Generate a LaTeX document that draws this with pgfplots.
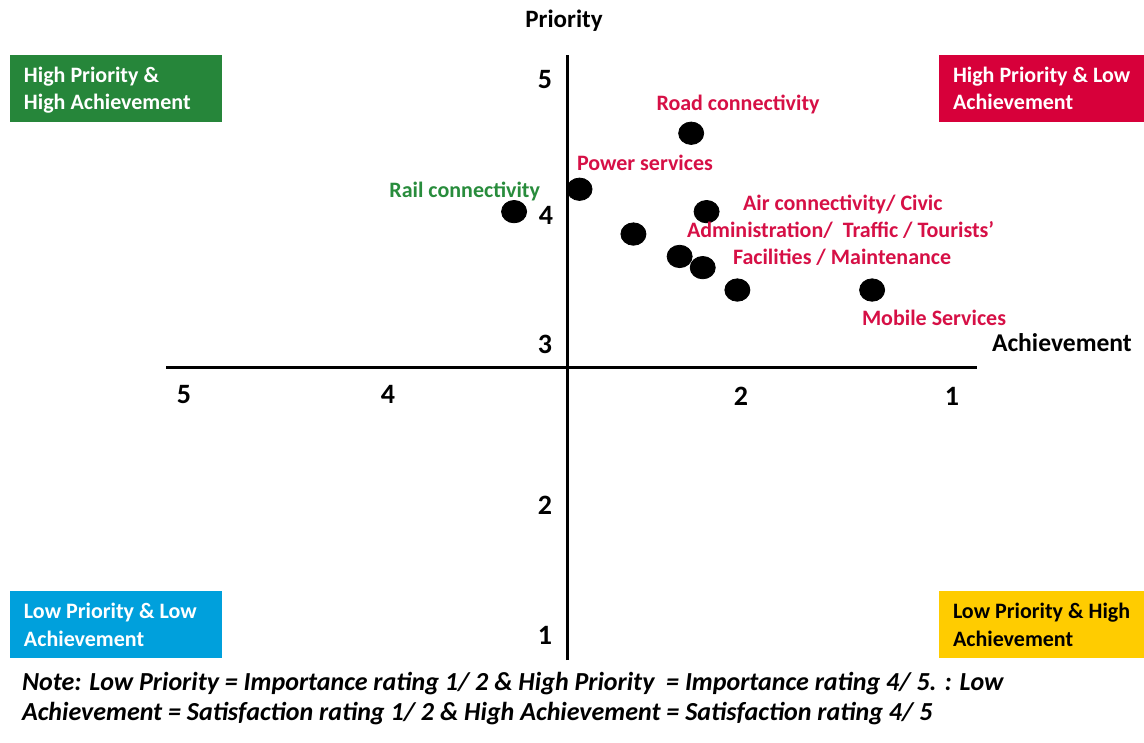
\documentclass[border=0pt]{standalone}
\usepackage{fontspec}
\setmainfont{Carlito}
\usepackage{pgfplots}
\pgfplotsset{compat=1.18}

\definecolor{qgreen}{RGB}{38,134,58}
\definecolor{qred}{RGB}{215,0,58}
\definecolor{qblue}{RGB}{0,160,220}
\definecolor{qyellow}{RGB}{255,204,0}
\definecolor{lblred}{RGB}{214,16,70}
\definecolor{lblgreen}{RGB}{40,140,60}

\begin{document}
\begin{tikzpicture}
\path[use as bounding box] (0,0) rectangle (572pt,-371.5pt);

% Priority (vertical) against achievement (horizontal, 5 on the left)
\begin{axis}[
  at={(84pt,-330pt)}, anchor=south west,
  width=405pt, height=302.5pt, scale only axis,
  x dir=reverse,
  xmin=0.870, xmax=5.078,
  ymin=0.907, ymax=5.229,
  hide axis, clip=false]
  \draw[line width=1.5pt] (axis cs:5.088,3) -- (axis cs:0.875,3);
  \draw[line width=1.5pt] (axis cs:3,0.907) -- (axis cs:3,5.229);
  \addplot[only marks, mark=*, mark size=5.6pt,
           mark options={black, fill=black, xscale=1.12}]
    coordinates {
      (3.28,4.11)  % rail connectivity
      (2.94,4.27)  % power services
      (2.36,4.67)  % road connectivity
      (2.28,4.11)  % air connectivity / civic administration
      (2.66,3.95)
      (2.42,3.79)
      (2.30,3.71)
      (2.12,3.55)
      (1.42,3.55)  % mobile services
    };
\end{axis}

\begin{scope}[x=0.5pt, y=-0.5pt,
  every node/.style={inner sep=0pt, outer sep=0pt},
  qtxt/.style={anchor=base west, font=\fontsize{11}{13.5}\selectfont\bfseries},
  tick/.style={anchor=base, font=\fontsize{14}{16}\selectfont\bfseries},
  lbl/.style={anchor=base west, text=lblred, font=\fontsize{11}{13.5}\selectfont\bfseries}]

  % quadrant boxes
  \fill[qgreen]  (10,55)   rectangle (222,122);
  \fill[qred]    (939,55)  rectangle (1144,122);
  \fill[qblue]   (10,591)  rectangle (222,658);
  \fill[qyellow] (939,591) rectangle (1144,658);

  \node[qtxt, text=white] at (24,83)  {High Priority \&};
  \node[qtxt, text=white] at (24,110) {High Achievement};
  \node[qtxt, text=white] at (953,83)  {High Priority \& Low};
  \node[qtxt, text=white] at (953,110) {Achievement};
  \node[qtxt, text=white] at (24,618) {Low Priority \& Low};
  \node[qtxt, text=white] at (24,646) {Achievement};
  \node[qtxt, text=black] at (953,618) {Low Priority \& High};
  \node[qtxt, text=black] at (953,646) {Achievement};

  % axis titles
  \node[anchor=base, font=\fontsize{12.5}{15}\selectfont\bfseries] at (564,28) {Priority};
  \node[anchor=base west, font=\fontsize{12.8}{15}\selectfont\bfseries] at (992,351) {Achievement};

  % tick labels
  \node[tick] at (545,89)  {5};
  \node[tick] at (546,224) {4};
  \node[tick] at (545,353) {3};
  \node[tick] at (545,514) {2};
  \node[tick] at (545,644) {1};
  \node[tick] at (184,403) {5};
  \node[tick] at (388,403) {4};
  \node[tick] at (741,405) {2};
  \node[tick] at (952,405) {1};

  % point labels
  \node[anchor=base, text=lblred, font=\fontsize{11}{13.5}\selectfont\bfseries] at (738,111) {Road connectivity};
  \node[lbl] at (577,171) {Power services};
  \node[anchor=base east, text=lblgreen, font=\fontsize{11}{13.5}\selectfont\bfseries] at (540,198) {Rail connectivity};
  \node[lbl] at (743,211) {Air connectivity/ Civic};
  \node[lbl] at (687,237) {Administration/\ \ Traffic / Tourists’};
  \node[lbl] at (733,264) {Facilities / Maintenance};
  \node[lbl] at (862,325) {Mobile Services};

  % note
  \node[anchor=base west, font=\fontsize{13}{15}\selectfont\bfseries\itshape] at (22,690)
    {Note: Low Priority = Importance rating 1/ 2 \& High Priority\ \ = Importance rating 4/ 5. : Low};
  \node[anchor=base west, font=\fontsize{13}{15}\selectfont\bfseries\itshape] at (22,720)
    {Achievement = Satisfaction rating 1/ 2 \& High Achievement = Satisfaction rating 4/ 5};
\end{scope}
\end{tikzpicture}
\end{document}
